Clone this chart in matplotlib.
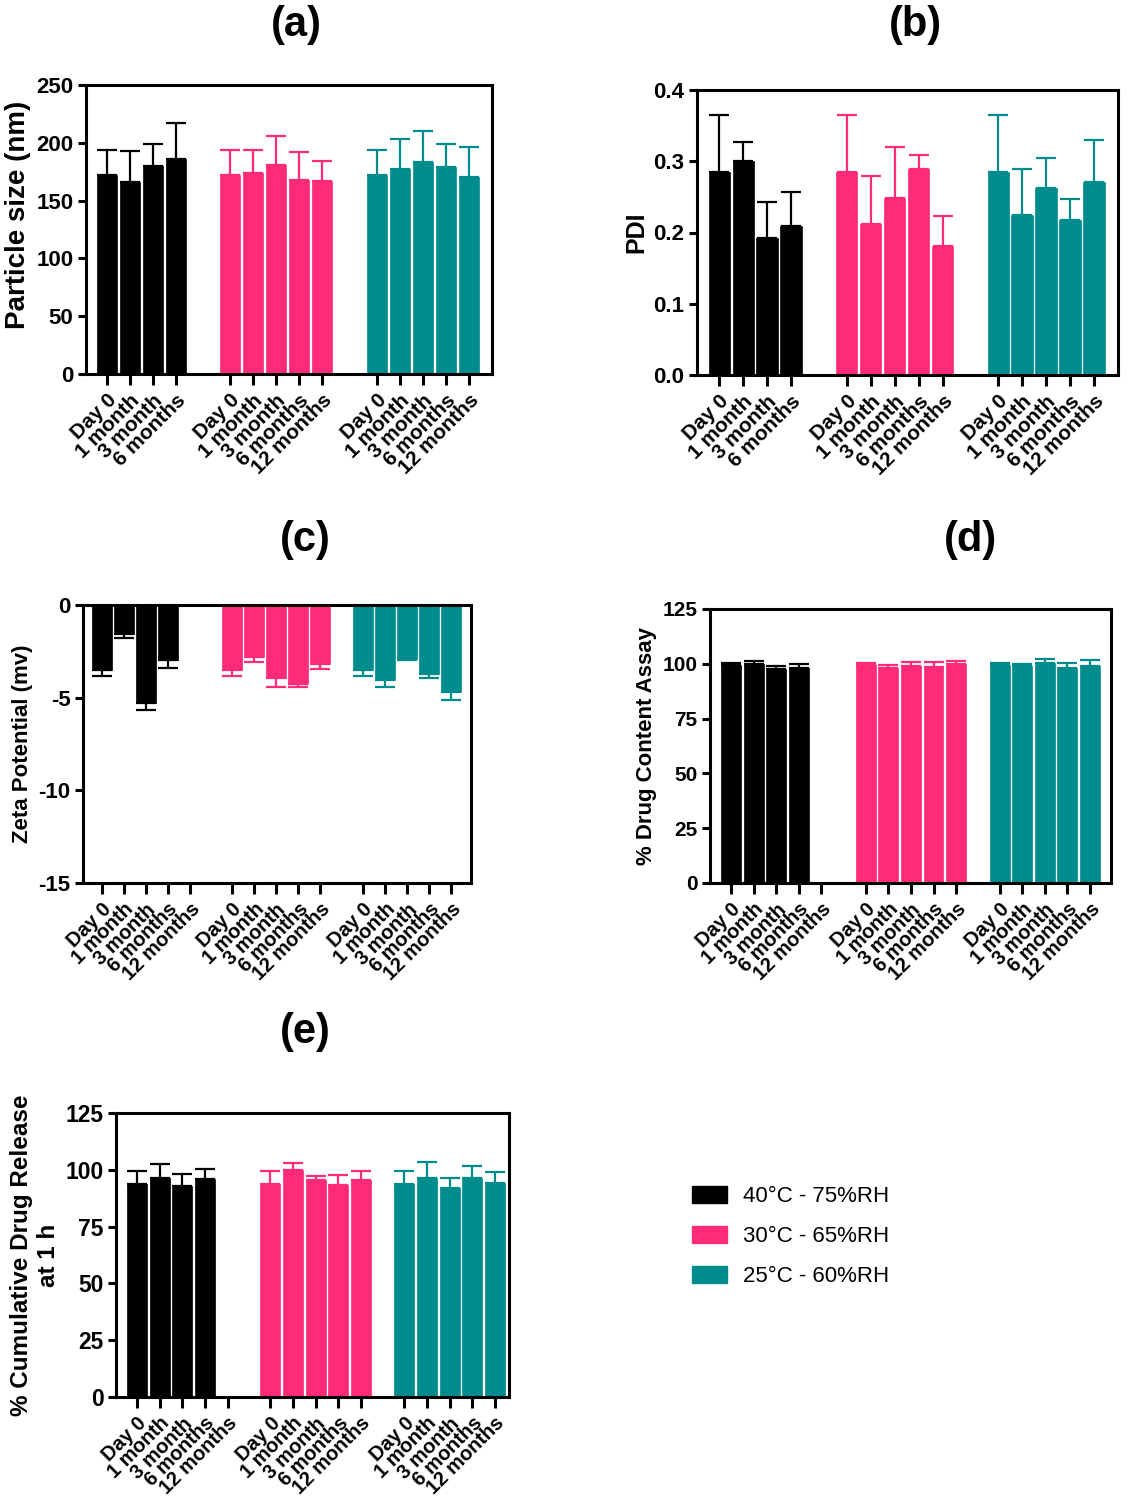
import numpy as np
import matplotlib
matplotlib.use("Agg")
import matplotlib.pyplot as plt
from matplotlib.patches import Patch

plt.rcParams['font.family'] = ['Liberation Sans', 'DejaVu Sans']
plt.rcParams['axes.unicode_minus'] = False

# ---------------- data ----------------
groups = ["40°C - 75%RH", "30°C - 65%RH", "25°C - 60%RH"]
colors = ["#000000", "#FF2A78", "#008C8C"]
labels5 = ["Day 0", "1 month", "3 month", "6 months", "12 months"]
labels4 = ["Day 0", "1 month", "3 month", "6 months"]

# (a) Particle size (nm)
size_black = [172, 166, 180, 186]
size_black_err = [22, 27, 19, 31]
size_pink = [172, 174, 181, 168, 167]
size_pink_err = [22, 20, 25, 24, 17]
size_teal = [172, 177, 183, 179, 170]
size_teal_err = [22, 26, 27, 20, 26]

# (b) PDI
pdi_black = [0.285, 0.300, 0.192, 0.209]
pdi_black_err = [0.080, 0.027, 0.051, 0.048]
pdi_pink = [0.285, 0.212, 0.248, 0.289, 0.181]
pdi_pink_err = [0.080, 0.067, 0.072, 0.020, 0.042]
pdi_teal = [0.285, 0.225, 0.263, 0.217, 0.271]
pdi_teal_err = [0.080, 0.064, 0.041, 0.030, 0.059]

# (c) Zeta potential (mV)
zeta_black = [-3.50, -1.58, -5.28, -2.96]
zeta_black_err = [0.31, 0.20, 0.38, 0.44]
zeta_pink = [-3.50, -2.78, -3.93, -4.28, -3.16]
zeta_pink_err = [0.31, 0.29, 0.49, 0.17, 0.31]
zeta_teal = [-3.50, -4.04, -2.89, -3.72, -4.69]
zeta_teal_err = [0.31, 0.36, 0.07, 0.20, 0.43]

# (d) % Drug content assay
dc_black = [99.6, 99.9, 97.8, 98.2]
dc_black_err = [0.6, 1.4, 1.0, 1.7]
dc_pink = [99.6, 98.2, 99.1, 98.5, 100.1]
dc_pink_err = [0.6, 1.1, 1.6, 2.5, 1.2]
dc_teal = [99.6, 99.1, 100.4, 98.2, 99.1]
dc_teal_err = [0.6, 1.0, 1.8, 2.0, 2.5]

# (e) % Cumulative drug release at 1 h
rel_black = [93.8, 96.2, 92.7, 96.0]
rel_black_err = [5.7, 6.4, 5.5, 4.3]
rel_pink = [93.7, 100.1, 95.4, 93.2, 95.6]
rel_pink_err = [5.8, 2.9, 1.9, 4.7, 3.9]
rel_teal = [93.7, 96.5, 91.9, 96.5, 94.0]
rel_teal_err = [5.8, 7.0, 4.6, 5.2, 5.1]

# ---------------- figure ----------------
fig = plt.figure(figsize=(11.37, 15.0), dpi=100)
W, H = 1137, 1500


def make_ax(l, r, t, b):
    return fig.add_axes([l / W, 1 - b / H, (r - l) / W, (b - t) / H])


def panel(ax, series, black_labels, offsets, xlim, ylim, yticks, ylabel,
          yfmt=None, negative=False, ylsize=16, ytsize=16, xtsize=15,
          ylab_y=0.5):
    tick_pos, tick_lab = [], []
    for gi, ((vals, errs), off) in enumerate(zip(series, offsets)):
        labs = black_labels if gi == 0 else labels5
        xs = off + np.arange(len(labs))
        tick_pos.extend(xs)
        tick_lab.extend(labs)
        xb = xs[:len(vals)]
        ax.bar(xb, vals, width=0.88, color=colors[gi], edgecolor=colors[gi],
               linewidth=0.5, zorder=2)
        z = np.zeros(len(vals))
        yerr = [errs, z] if negative else [z, errs]
        ax.errorbar(xb, vals, yerr=yerr, fmt='none', ecolor=colors[gi],
                    elinewidth=1.6, capsize=7, capthick=1.6, zorder=3)
    ax.set_xlim(*xlim)
    ax.set_ylim(*ylim)
    ax.set_yticks(yticks)
    if yfmt:
        ax.set_yticklabels([yfmt.format(v) for v in yticks])
    ax.set_xticks(tick_pos)
    ax.set_xticklabels(tick_lab, rotation=45, ha='right',
                       rotation_mode='anchor', fontsize=xtsize,
                       fontweight='bold')
    for lab in ax.get_yticklabels():
        lab.set_fontweight('bold')
        lab.set_fontsize(ytsize)
    ax.set_ylabel(ylabel, fontsize=ylsize, fontweight='bold')
    if ylab_y != 0.5:
        lbl = ax.yaxis.label
        lbl.set_y(ylab_y)
    for sp in ax.spines.values():
        sp.set_linewidth(2.2)
    ax.tick_params(axis='y', direction='out', length=6, width=2.2, pad=3)
    ax.tick_params(axis='x', direction='out', length=8, width=2.2, pad=4)


# (a)
ax_a = make_ax(86, 492, 85, 374)
panel(ax_a,
      [(size_black, size_black_err), (size_pink, size_pink_err),
       (size_teal, size_teal_err)],
      labels4, [0, 5.35, 11.74], (-0.91, 16.74), (0, 250),
      [0, 50, 100, 150, 200, 250], "Particle size (nm)",
      ylsize=20, ytsize=16, ylab_y=0.55)

# (b)
ax_b = make_ax(697, 1118, 90, 375)
panel(ax_b,
      [(pdi_black, pdi_black_err), (pdi_pink, pdi_pink_err),
       (pdi_teal, pdi_teal_err)],
      labels4, [0, 5.33, 11.63], (-0.92, 16.63), (0, 0.4),
      [0.0, 0.1, 0.2, 0.3, 0.4], "PDI", yfmt="{:.1f}",
      ylsize=18, ytsize=16)

# (c)
ax_c = make_ax(83, 471, 605, 883)
panel(ax_c,
      [(zeta_black, zeta_black_err), (zeta_pink, zeta_pink_err),
       (zeta_teal, zeta_teal_err)],
      labels5, [0, 5.91, 11.86], (-0.86, 16.76), (-15, 0),
      [0, -5, -10, -15], "Zeta Potential (mv)", negative=True,
      ylsize=16, ytsize=16, xtsize=14.5)

# (d)
ax_d = make_ax(710, 1111, 609, 883)
panel(ax_d,
      [(dc_black, dc_black_err), (dc_pink, dc_pink_err),
       (dc_teal, dc_teal_err)],
      labels5, [0, 5.97, 11.9], (-0.93, 16.83), (0, 125),
      [0, 25, 50, 75, 100, 125], "% Drug Content Assay",
      ylsize=16, ytsize=15, xtsize=14.5)

# (e)
ax_e = make_ax(116, 509, 1113, 1397)
panel(ax_e,
      [(rel_black, rel_black_err), (rel_pink, rel_pink_err),
       (rel_teal, rel_teal_err)],
      labels5, [0, 5.88, 11.8], (-0.93, 16.42), (0, 125),
      [0, 25, 50, 75, 100, 125], "% Cumulative Drug Release\nat 1 h",
      ylsize=17.5, ytsize=16.5, xtsize=14.5)

# panel titles
for txt, x, y in [("(a)", 296, 25), ("(b)", 915, 25), ("(c)", 305, 540),
                  ("(d)", 970, 540), ("(e)", 305, 1032)]:
    fig.text(x / W, 1 - y / H, txt, fontsize=30, fontweight='bold',
             ha='center', va='center')

# legend
handles = [Patch(facecolor=c, edgecolor=c) for c in colors]
fig.legend(handles, groups, loc='upper left',
           bbox_to_anchor=(683 / W, 1 - 1177 / H), frameon=False,
           fontsize=16, handlelength=1.6, handleheight=0.8,
           handletextpad=0.7, labelspacing=0.85, borderaxespad=0)

fig.savefig("out.png", dpi=100)
